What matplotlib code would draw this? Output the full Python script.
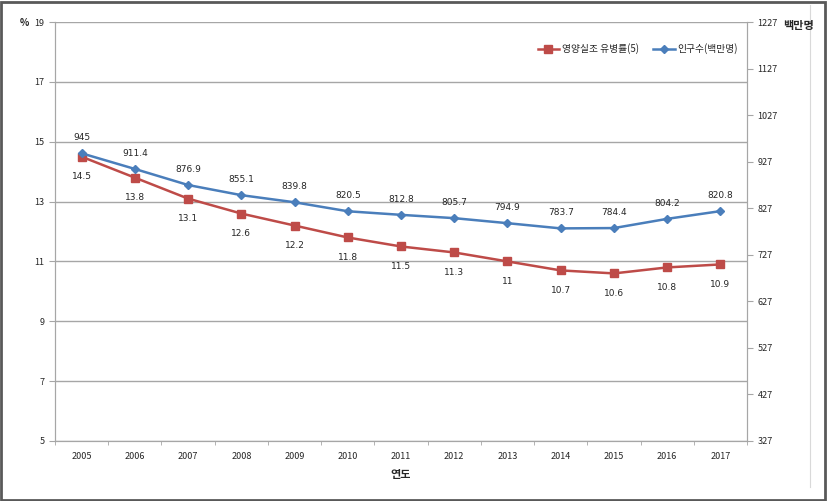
import numpy as np
import matplotlib.pyplot as plt
from matplotlib.patches import Rectangle
from matplotlib.lines import Line2D

plt.rcParams['font.family'] = ['Noto Sans CJK KR', 'DejaVu Sans']

years = ['2005', '2006', '2007', '2008', '2009', '2010', '2011',
         '2012', '2013', '2014', '2015', '2016', '2017']
undernourish = [14.5, 13.8, 13.1, 12.6, 12.2, 11.8, 11.5, 11.3, 11, 10.7, 10.6, 10.8, 10.9]
population = [945, 911.4, 876.9, 855.1, 839.8, 820.5, 812.8, 805.7, 794.9, 783.7, 784.4, 804.2, 820.8]
left_ticks = [5, 7, 9, 11, 13, 15, 17, 19]
right_ticks = [327, 427, 527, 627, 727, 827, 927, 1027, 1127, 1227]

red = '#BE4B48'
blue = '#4A7EBB'
grid_c = '#A6A6A6'
txt_c = '#262626'

fig = plt.figure(figsize=(8.27, 5.01), dpi=100)
# outer frame and right edge of chart area
fig.patches.append(Rectangle((0.001, 0.002), 0.997, 0.995, transform=fig.transFigure,
                             fill=False, edgecolor='#595959', lw=2))
fig.lines.append(Line2D([0.980, 0.980], [0.028, 0.99], transform=fig.transFigure,
                        color='#D9D9D9', lw=0.8))

ax = fig.add_axes([0.0665, 0.1198, 0.8368, 0.8362])
ax2 = ax.twinx()
x = np.arange(len(years))

ax.plot(x, undernourish, color=red, lw=1.8, marker='s', ms=6,
        markerfacecolor=red, markeredgecolor=red, label='영양실조 유병률(5)', zorder=3)
ax2.plot(x, population, color=blue, lw=1.8, marker='D', ms=4,
         markerfacecolor=blue, markeredgecolor=blue, label='인구수(백만명)', zorder=3)

for xi, v in zip(x, undernourish):
    ax.annotate(f'{v:g}', (xi, v), xytext=(0, -11), textcoords='offset points',
                ha='center', va='top', fontsize=6.5, color=txt_c, family='DejaVu Sans')
for xi, v in zip(x, population):
    ax2.annotate(f'{v:g}', (xi, v), xytext=(0, 8), textcoords='offset points',
                 ha='center', va='bottom', fontsize=6.5, color=txt_c, family='DejaVu Sans')

ax.set_xlim(-0.5, len(years) - 0.5)
ax.set_ylim(5, 19)
ax2.set_ylim(327, 1227)
ax.set_yticks(left_ticks)
ax2.set_yticks(right_ticks)
ax.set_xticks(x)
ax.set_xticklabels(years)
ax.set_xticks(np.arange(-0.5, len(years)), minor=True)
ax.tick_params(axis='x', which='major', length=0, labelsize=6.5, colors=txt_c, pad=8)
ax.tick_params(axis='x', which='minor', length=3, color=grid_c, direction='out')
ax.tick_params(axis='y', length=4, color=grid_c, labelsize=6.5, colors=txt_c, direction='out')
ax2.tick_params(axis='y', length=4, color=grid_c, labelsize=6.5, colors=txt_c, direction='out')
ax.yaxis.grid(True, color=grid_c, lw=1)
ax.set_axisbelow(True)

for a in (ax, ax2):
    for s in a.spines.values():
        s.set_color(grid_c)
    a.spines['top'].set_visible(False)

fig.text(0.03, 0.955, '%', fontsize=7, color=txt_c, fontweight='bold', ha='center', va='center')
fig.text(0.965, 0.95, '백만명', fontsize=8, color=txt_c, fontweight='bold', ha='center', va='center')
fig.text(0.484, 0.053, '연도', fontsize=8, color=txt_c, fontweight='bold', ha='center', va='center')

h1, l1 = ax.get_legend_handles_labels()
h2, l2 = ax2.get_legend_handles_labels()
leg = ax2.legend(h1 + h2, l1 + l2, loc='upper right', ncol=2, frameon=False,
                 fontsize=7, bbox_to_anchor=(1.0, 0.97), handlelength=2.2,
                 columnspacing=1.5, handletextpad=0.3)
for t in leg.get_texts():
    t.set_color(txt_c)

fig.savefig('out.png', dpi=100)
